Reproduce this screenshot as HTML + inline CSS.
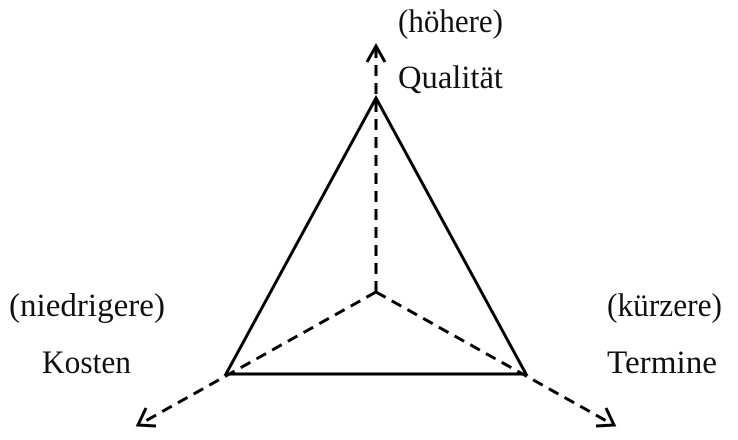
<!DOCTYPE html>
<html><head><meta charset="utf-8"><style>
html,body{margin:0;padding:0;background:#fff;}
svg{display:block;}
text{font-family:"Liberation Serif","Times New Roman",Times,serif;font-size:33px;fill:#111;}
</style></head><body>
<svg width="738" height="440" viewBox="0 0 738 440">
<g stroke="#000" stroke-width="3" fill="none">
<polygon points="376,98 226,374 526,374" stroke-linejoin="miter"/>
<g stroke-dasharray="11,7">
<line x1="376" y1="292" x2="376" y2="48"/>
<line x1="376" y1="292" x2="140" y2="424"/>
<line x1="376" y1="292" x2="612" y2="424"/>
</g>
<polyline points="367,62 376,46 385,62"/>
<polyline points="146,408 138,425 156,426"/>
<polyline points="606,408 614,425 596,426"/>
</g>
<text x="398" y="32" textLength="105" lengthAdjust="spacingAndGlyphs">(höhere)</text>
<text x="398" y="88" textLength="105" lengthAdjust="spacingAndGlyphs">Qualität</text>
<text x="9" y="316" textLength="156" lengthAdjust="spacingAndGlyphs">(niedrigere)</text>
<text x="42" y="373" textLength="89" lengthAdjust="spacingAndGlyphs">Kosten</text>
<text x="607" y="316" textLength="115" lengthAdjust="spacingAndGlyphs">(kürzere)</text>
<text x="607" y="373" textLength="110" lengthAdjust="spacingAndGlyphs">Termine</text>
</svg>
</body></html>
